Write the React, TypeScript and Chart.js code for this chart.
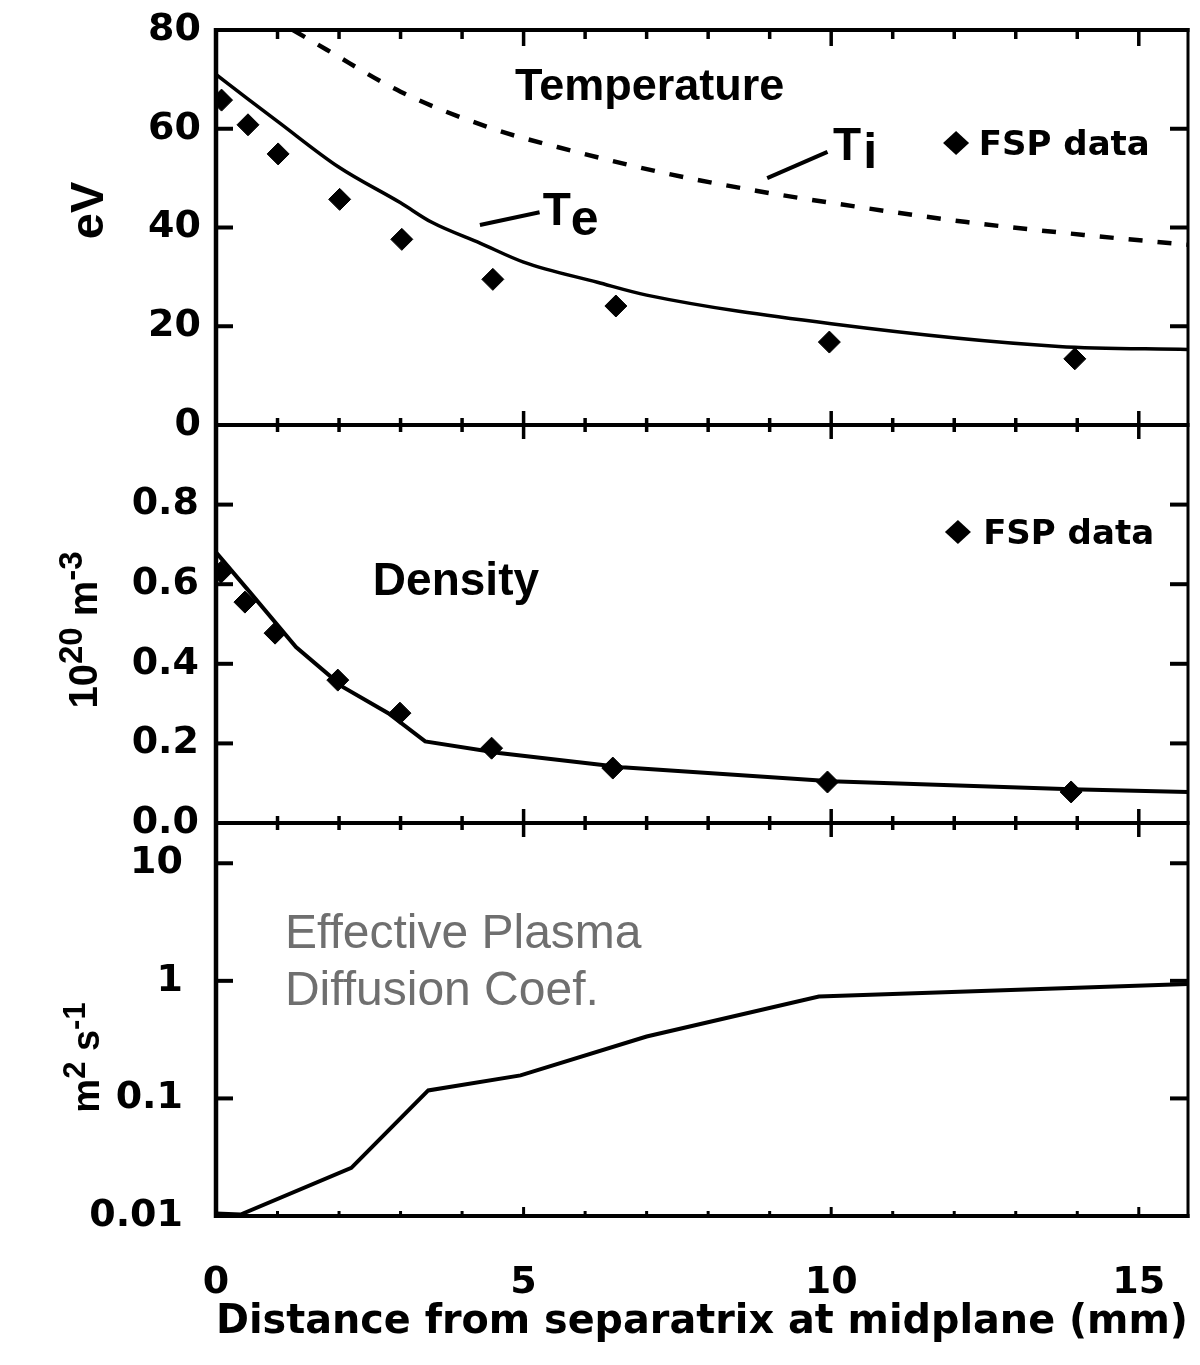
import React, { useEffect, useRef } from 'react';
import { Chart, registerables } from 'chart.js';

Chart.register(...registerables);

// ---------------- Data ----------------
const teModelX = [0, 0.5, 1, 2, 3, 3.5, 4.3, 5, 6.2, 7, 10, 13.7, 15.8];
const teModelY = [71, 66.2, 61.5, 52.2, 45, 41.1, 36.8, 33, 28.9, 26.3, 20.5, 15.9, 15.3];

const tiModelX = [1.25, 1.8, 3, 4.5, 5.8, 7.3, 8.8, 10.1, 12.2, 14.1, 15.8];
const tiModelY = [80, 76, 67.5, 60, 55.5, 51, 47.4, 44.8, 41.1, 38.5, 36.5];

const teFspX = [0.09, 0.52, 1.01, 2.01, 3.02, 4.5, 6.5, 9.97, 13.96];
const teFspY = [65.8, 60.8, 54.9, 45.7, 37.6, 29.5, 24.1, 16.8, 13.4];

const neModelX = [0, 0.55, 1.3, 2.06, 2.8, 3.4, 4.6, 6.6, 10, 13.9, 15.8];
const neModelY = [0.68, 0.58, 0.442, 0.342, 0.276, 0.205, 0.176, 0.14, 0.105, 0.085, 0.078];

const neFspX = [0.08, 0.47, 0.96, 1.98, 2.99, 4.48, 6.45, 9.94, 13.9];
const neFspY = [0.63, 0.555, 0.477, 0.359, 0.276, 0.188, 0.138, 0.103, 0.078];

const diffX = [0, 0.4, 2.2, 3.45, 4.95, 7, 9.8, 15.8];
const diffY = [0.0105, 0.0103, 0.0257, 0.117, 0.157, 0.336, 0.736, 0.94];

const xTickValues = [0, 5, 10, 15];
const tempTickValues = [0, 20, 40, 60, 80];
const densTickValues = [0, 0.2, 0.4, 0.6, 0.8];
const diffTickValues = [0.01, 0.1, 1, 10];

const xTitle = 'Distance from separatrix at midplane (mm)';

// ---------------- Styling / annotation placement ----------------
const DEJAVU = '"DejaVu Sans"';
const LIB = '"Liberation Sans"';
const tickFont = { family: DEJAVU, size: 38, weight: 'bold' as const };

const pts = (xs: number[], ys: number[]) => xs.map((x, i) => ({ x, y: ys[i] }));

const zeroPadding = (s: any) => {
  s.paddingTop = 0;
  s.paddingBottom = 0;
  s.paddingLeft = 0;
  s.paddingRight = 0;
};

const decorPlugin = {
  id: 'decor',
  afterDatasetsDraw(chart: any) {
    const ctx: CanvasRenderingContext2D = chart.ctx;
    const xs = chart.scales.x;
    const yT = chart.scales.yT;
    const yN = chart.scales.yN;
    const yD = chart.scales.yD;
    const L = chart.chartArea.left;
    const R = chart.chartArea.right;
    const top = yT.top;
    const bottom = yD.bottom;

    ctx.save();
    ctx.strokeStyle = '#000';
    ctx.fillStyle = '#000';
    ctx.lineCap = 'butt';

    const line = (x1: number, y1: number, x2: number, y2: number, w: number) => {
      ctx.lineWidth = w;
      ctx.beginPath();
      ctx.moveTo(x1, y1);
      ctx.lineTo(x2, y2);
      ctx.stroke();
    };

    // frame
    line(L, top - 2, L, bottom + 2, 4.5);
    line(R, top - 2, R, bottom + 2, 3);
    [top, yN.top, yD.top, bottom].forEach((y) => line(L - 2, y, R + 1.5, y, 4));

    // x ticks on every panel border
    for (let v = 1; v <= 15; v++) {
      const px = xs.getPixelForValue(v);
      const major = v % 5 === 0;
      line(px, top, px, top + (major ? 16 : 9), 3.5);
      [yN.top, yD.top].forEach((y) => {
        const h = major ? 14 : 7;
        line(px, y - h, px, y + h, 3.5);
      });
      line(px, bottom, px, bottom - (major ? 9 : 5), 3);
    }

    // y ticks (inside, both sides)
    [yT, yN, yD].forEach((s: any) => {
      s.ticks.forEach((t: any) => {
        const py = s.getPixelForValue(t.value);
        if (Math.abs(py - s.top) < 3 || Math.abs(py - s.bottom) < 3) return;
        line(L, py, L + 17, py, 4);
        line(R - 18, py, R, py, 4);
      });
    });

    // ---- annotations ----
    const X = (v: number) => xs.getPixelForValue(v);

    ctx.textBaseline = 'alphabetic';
    ctx.textAlign = 'left';

    // Temperature
    ctx.font = `bold 45px ${LIB}`;
    ctx.textAlign = 'center';
    ctx.fillText('Temperature', X(7.05), yT.getPixelForValue(65.8));
    ctx.textAlign = 'left';

    // Te label with leader
    line(X(4.29), yT.getPixelForValue(40.5), X(5.26), yT.getPixelForValue(43.1), 4);
    ctx.font = `bold 46px ${LIB}`;
    let tx = X(5.31);
    ctx.fillText('T', tx, yT.getPixelForValue(40.5));
    tx += ctx.measureText('T').width;
    ctx.font = `bold 50px ${LIB}`;
    ctx.fillText('e', tx, yT.getPixelForValue(38.5));

    // Ti label with leader
    line(X(8.96), yT.getPixelForValue(50.0), X(9.94), yT.getPixelForValue(55.3), 4);
    ctx.font = `bold 46px ${LIB}`;
    tx = X(10.03);
    ctx.fillText('T', tx, yT.getPixelForValue(53.6));
    tx += ctx.measureText('T').width + 2;
    ctx.font = `bold 50px ${LIB}`;
    ctx.fillText('i', tx, yT.getPixelForValue(52.0));

    // legend entries "FSP data"
    const diamond = (cx: number, cy: number, rx: number, ry: number) => {
      ctx.beginPath();
      ctx.moveTo(cx, cy - ry);
      ctx.lineTo(cx + rx, cy);
      ctx.lineTo(cx, cy + ry);
      ctx.lineTo(cx - rx, cy);
      ctx.closePath();
      ctx.fill();
    };
    ctx.font = `bold 34px ${DEJAVU}`;
    diamond(X(12.03), yT.getPixelForValue(57.1), 13, 12);
    ctx.fillText('FSP data', X(12.4), yT.getPixelForValue(54.7));
    diamond(X(12.06), yN.getPixelForValue(0.731), 13, 12);
    ctx.fillText('FSP data', X(12.47), yN.getPixelForValue(0.701));

    // Density
    ctx.font = `bold 46px ${LIB}`;
    ctx.fillText('Density', X(2.55), yN.getPixelForValue(0.573));

    // Effective Plasma Diffusion Coef.
    ctx.font = `48px ${LIB}`;
    ctx.fillStyle = '#6f6f6f';
    ctx.fillText('Effective Plasma', X(1.12), yD.getPixelForValue(1.9));
    ctx.fillText('Diffusion Coef.', X(1.12), yD.getPixelForValue(0.623));
    ctx.fillStyle = '#000';

    // rotated y-axis titles with superscripts
    const rotated = (cx: number, cy: number, parts: { t: string; s: number; r: number }[]) => {
      ctx.save();
      ctx.translate(cx, cy);
      ctx.rotate(-Math.PI / 2);
      ctx.textAlign = 'left';
      let total = 0;
      const ws = parts.map((p) => {
        ctx.font = `bold ${p.s}px ${LIB}`;
        const w = ctx.measureText(p.t).width;
        total += w;
        return w;
      });
      let x = -total / 2;
      parts.forEach((p, i) => {
        ctx.font = `bold ${p.s}px ${LIB}`;
        ctx.fillText(p.t, x, -p.r);
        x += ws[i];
      });
      ctx.restore();
    };
    const midT = (yT.top + yT.bottom) / 2;
    const midN = (yN.top + yN.bottom) / 2;
    const midD = (yD.top + yD.bottom) / 2;
    rotated(103, midT - 17, [{ t: 'eV', s: 47, r: 0 }]);
    rotated(97, midN + 6, [
      { t: '10', s: 40, r: 0 },
      { t: '20', s: 33, r: 15 },
      { t: ' m', s: 40, r: 0 },
      { t: '-3', s: 33, r: 15 },
    ]);
    rotated(99, midD + 38, [
      { t: 'm', s: 38, r: 0 },
      { t: '2', s: 31, r: 14 },
      { t: ' s', s: 38, r: 0 },
      { t: '-1', s: 31, r: 14 },
    ]);

    ctx.restore();
  },
};

const noGrid = { display: false, drawTicks: false };
const noBorder = { display: false };

export default function App() {
  const ref = useRef<HTMLCanvasElement>(null);

  useEffect(() => {
    const canvas = ref.current;
    if (!canvas) return;
    const chart = new Chart(canvas, {
      type: 'line',
      data: {
        datasets: [
          {
            label: 'Te',
            data: pts(teModelX, teModelY),
            yAxisID: 'yT',
            borderColor: '#000',
            borderWidth: 3.5,
            pointRadius: 0,
            cubicInterpolationMode: 'monotone',
            fill: false,
          },
          {
            label: 'Ti',
            data: pts(tiModelX, tiModelY),
            yAxisID: 'yT',
            borderColor: '#000',
            borderWidth: 4.5,
            borderDash: [14, 15],
            pointRadius: 0,
            cubicInterpolationMode: 'monotone',
            fill: false,
          },
          {
            label: 'FSP Te',
            data: pts(teFspX, teFspY),
            yAxisID: 'yT',
            showLine: false,
            pointStyle: 'rectRot',
            pointRadius: 11,
            backgroundColor: '#000',
            borderColor: '#000',
            borderWidth: 1,
          },
          {
            label: 'Density',
            data: pts(neModelX, neModelY),
            yAxisID: 'yN',
            borderColor: '#000',
            borderWidth: 4,
            pointRadius: 0,
            tension: 0,
            fill: false,
          },
          {
            label: 'FSP ne',
            data: pts(neFspX, neFspY),
            yAxisID: 'yN',
            showLine: false,
            pointStyle: 'rectRot',
            pointRadius: 11,
            backgroundColor: '#000',
            borderColor: '#000',
            borderWidth: 1,
          },
          {
            label: 'Diffusion',
            data: pts(diffX, diffY),
            yAxisID: 'yD',
            borderColor: '#000',
            borderWidth: 4,
            pointRadius: 0,
            tension: 0,
            fill: false,
          },
        ],
      },
      options: {
        responsive: false,
        animation: false,
        devicePixelRatio: 1,
        events: [],
        layout: { padding: { top: 30, right: 12, left: 0, bottom: 0 } },
        plugins: { legend: { display: false }, tooltip: { enabled: false }, title: { display: false } },
        scales: {
          x: {
            type: 'linear',
            position: 'bottom',
            min: 0,
            max: 15.8,
            grid: noGrid,
            border: noBorder,
            ticks: {
              font: tickFont,
              color: '#000',
              padding: 44,
              maxRotation: 0,
              autoSkip: false,
              includeBounds: false,
            },
            afterBuildTicks: (s: any) => {
              s.ticks = xTickValues.map((v) => ({ value: v }));
            },
            title: {
              display: true,
              text: xTitle,
              font: { family: DEJAVU, size: 40, weight: 'bold' },
              color: '#000',
              padding: { top: 0, bottom: 18 },
            },
            afterFit: (s: any) => {
              s.height = 149;
              zeroPadding(s);
            },
          },
          yD: {
            type: 'logarithmic',
            position: 'left',
            stack: 'panels',
            stackWeight: 393,
            min: 0.01,
            max: 22,
            grid: noGrid,
            border: noBorder,
            ticks: {
              font: tickFont,
              color: '#000',
              padding: 33,
              autoSkip: false,
              callback: (v: any) => String(v),
            },
            afterBuildTicks: (s: any) => {
              s.ticks = diffTickValues.map((v) => ({ value: v }));
            },
            afterFit: (s: any) => {
              s.width = 216;
              zeroPadding(s);
            },
          },
          yN: {
            type: 'linear',
            position: 'left',
            stack: 'panels',
            stackWeight: 398,
            min: 0,
            max: 1,
            grid: noGrid,
            border: noBorder,
            ticks: {
              font: tickFont,
              color: '#000',
              padding: 17,
              autoSkip: false,
              callback: (v: any) => Number(v).toFixed(1),
            },
            afterBuildTicks: (s: any) => {
              s.ticks = densTickValues.map((v) => ({ value: v }));
            },
            afterFit: (s: any) => {
              s.width = 216;
              zeroPadding(s);
            },
          },
          yT: {
            type: 'linear',
            position: 'left',
            stack: 'panels',
            stackWeight: 395,
            min: 0,
            max: 80,
            grid: noGrid,
            border: noBorder,
            ticks: {
              font: tickFont,
              color: '#000',
              padding: 15,
              autoSkip: false,
              callback: (v: any) => String(v),
            },
            afterBuildTicks: (s: any) => {
              s.ticks = tempTickValues.map((v) => ({ value: v }));
            },
            afterFit: (s: any) => {
              s.width = 216;
              zeroPadding(s);
            },
          },
        },
      } as any,
      plugins: [decorPlugin],
    });
    return () => chart.destroy();
  }, []);

  return (
    <div style={{ position: 'absolute', left: 0, top: 0, width: 1200, height: 1365, background: '#fff' }}>
      <canvas ref={ref} width={1200} height={1365} style={{ display: 'block', width: 1200, height: 1365 }} />
    </div>
  );
}
